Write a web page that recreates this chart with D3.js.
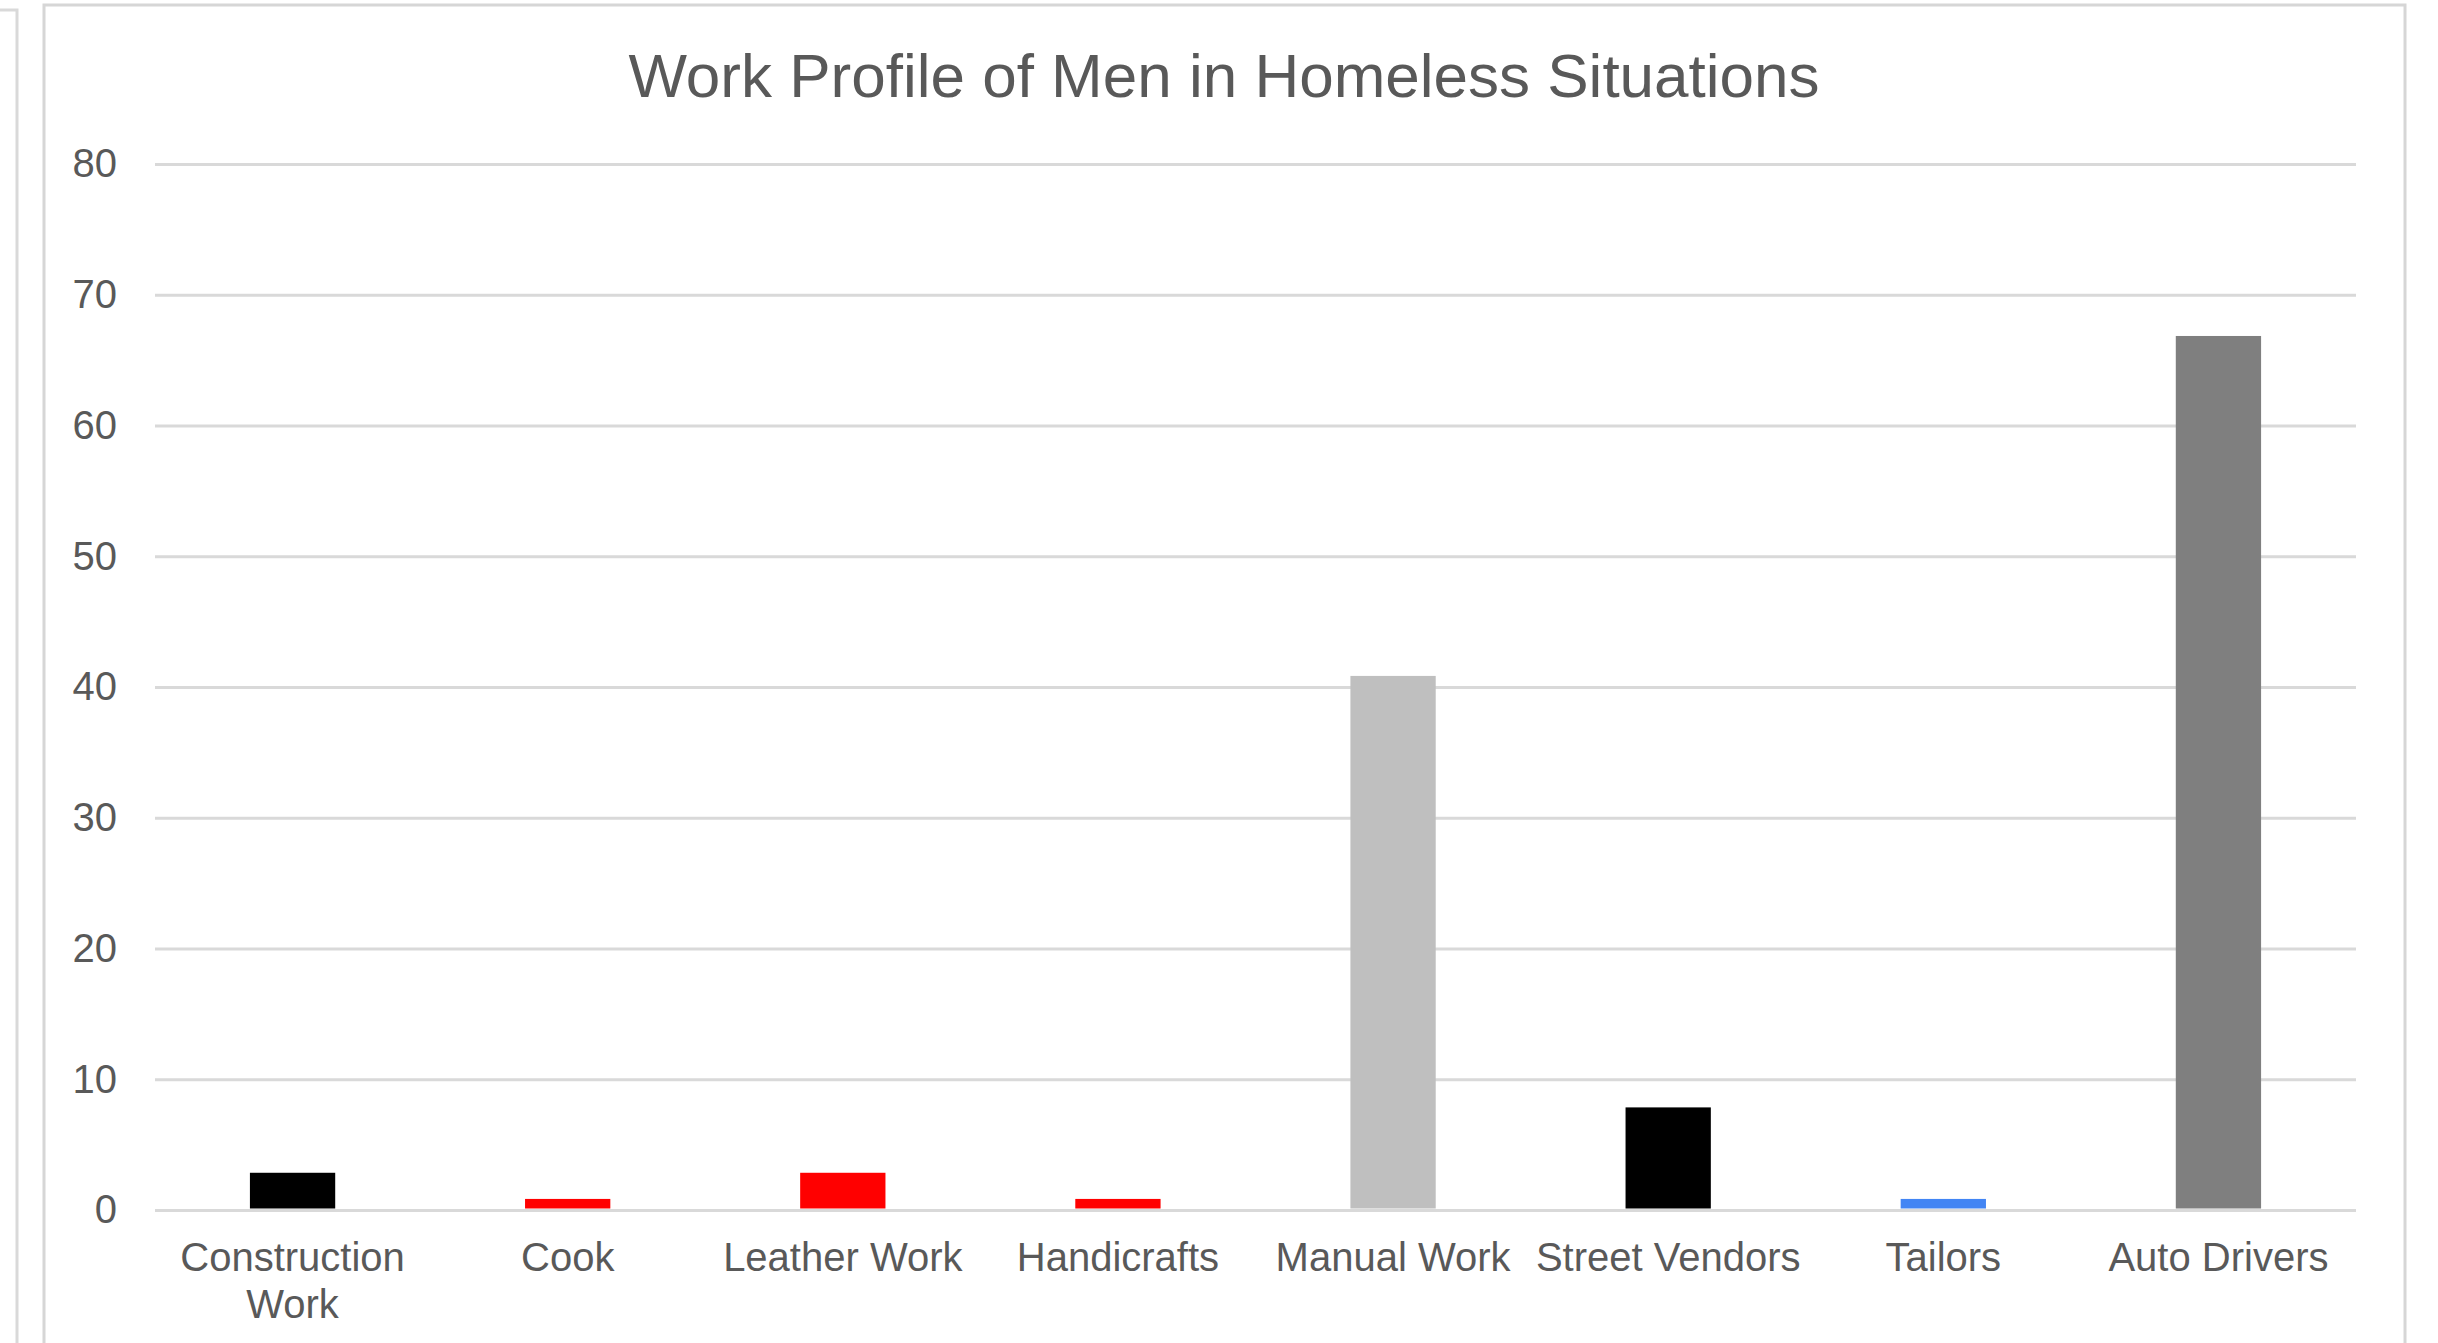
<!DOCTYPE html>
<html>
<head>
<meta charset="utf-8">
<script src="https://cdn.jsdelivr.net/npm/d3@7"></script>
<style>
  body { margin: 0; background: #fff; }
  svg text { font-family: "Liberation Sans", Arial, Helvetica, sans-serif; fill: #595959; }
</style>
</head>
<body>
<div id="vis"></div>
<script>
// data
var categories = ["Construction Work", "Cook", "Leather Work", "Handicrafts",
                  "Manual Work", "Street Vendors", "Tailors", "Auto Drivers"];
var values = [3, 1, 3, 1, 41, 8, 1, 67];
var yTicks = [0, 10, 20, 30, 40, 50, 60, 70, 80];

// one colour per bar, same order as categories
var barColors = ["#000000", "#ff0000", "#ff0000", "#ff0000",
                 "#bfbfbf", "#000000", "#4285f4", "#7f7f7f"];

var width = 2438,
    height = 1343;

var svg = d3.select("#vis")
  .append("svg")
  .attr("width", width)
  .attr("height", height);

// edge of the neighbouring box on the far left
svg.append("rect")
  .attr("x", -20)
  .attr("y", 10)
  .attr("width", 37)
  .attr("height", height + 20)
  .attr("fill", "none")
  .attr("stroke", "#d9d9d9")
  .attr("stroke-width", 3);

// chart frame (bottom runs off the page)
svg.append("rect")
  .attr("x", 44)
  .attr("y", 5)
  .attr("width", 2361)
  .attr("height", height + 20)
  .attr("fill", "#fff")
  .attr("stroke", "#d6d6d6")
  .attr("stroke-width", 3);

var margin = {top: 164, right: 82, bottom: 133, left: 155},
    graphWidth = width - margin.left - margin.right,
    graphHeight = height - margin.top - margin.bottom;

var graph = svg.append("g")
  .attr("transform", "translate(" + margin.left + "," + margin.top + ")");

var x = d3.scaleBand()
  .domain(categories)
  .range([0, graphWidth])
  .paddingInner(0.69)
  .paddingOuter(0.345);

var y = d3.scaleLinear()
  .domain([0, 80])
  .range([graphHeight, 0]);

// title
svg.append("text")
  .attr("x", 1224)
  .attr("y", 97)
  .attr("text-anchor", "middle")
  .style("font-size", "62px")
  .text("Work Profile of Men in Homeless Situations");

// y axis with gridlines
var yAxis = graph.append("g")
  .attr("class", "axis axis--y")
  .call(d3.axisLeft(y)
    .tickValues(yTicks)
    .tickSizeInner(-graphWidth)
    .tickSizeOuter(0)
    .tickPadding(38));

yAxis.select(".domain").remove();
yAxis.selectAll(".tick line")
  .attr("stroke", "#d9d9d9")
  .attr("stroke-width", 3);
yAxis.selectAll(".tick text")
  .style("font-size", "40px")
  .attr("fill", "#595959");

// bars (the original sits a hair lower than the exact value, nudge 2px)
graph.selectAll(".bar")
  .data(values)
  .enter().append("rect")
    .attr("class", "bar")
    .attr("x", function(d, i) { return x(categories[i]); })
    .attr("y", function(d) { return y(d) + 2; })
    .attr("width", x.bandwidth())
    .attr("height", function(d) { return y(0) - y(d) - 3.5; })
    .attr("fill", function(d, i) { return barColors[i]; });

// x axis labels
var xAxis = graph.append("g")
  .attr("class", "axis axis--x")
  .attr("transform", "translate(0," + graphHeight + ")")
  .call(d3.axisBottom(x).tickSize(0).tickPadding(33));

xAxis.select(".domain").remove();
xAxis.selectAll(".tick text")
  .style("font-size", "40px")
  .attr("fill", "#595959")
  .call(wrap, x.step());

// split long labels onto several lines
function wrap(texts, maxWidth) {
  texts.each(function() {
    var text = d3.select(this),
        words = text.text().split(/\s+/),
        yPos = text.attr("y"),
        dy = parseFloat(text.attr("dy")),
        line = [],
        lineNo = 0,
        tspan = text.text(null).append("tspan").attr("x", 0).attr("y", yPos).attr("dy", dy + "em");
    words.forEach(function(word) {
      line.push(word);
      tspan.text(line.join(" "));
      if (tspan.node().getComputedTextLength() > maxWidth && line.length > 1) {
        line.pop();
        tspan.text(line.join(" "));
        line = [word];
        lineNo++;
        tspan = text.append("tspan").attr("x", 0).attr("y", yPos)
          .attr("dy", (lineNo * 1.17 + dy) + "em").text(word);
      }
    });
  });
}
</script>
</body>
</html>
